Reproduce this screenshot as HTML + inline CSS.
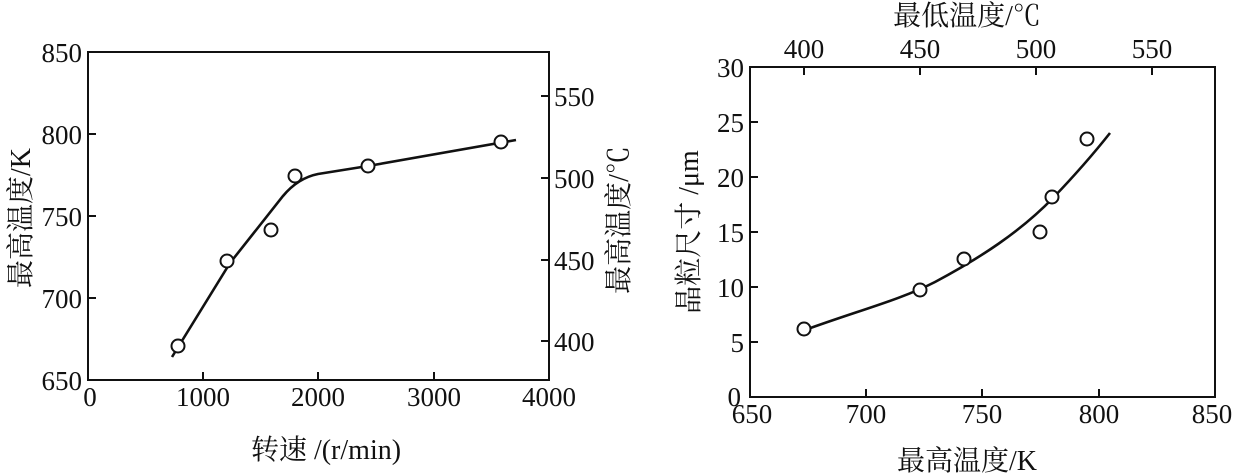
<!DOCTYPE html>
<html><head><meta charset="utf-8"><style>
body{margin:0;background:#fff;}
svg{display:block;}
text{font-family:"Liberation Serif","Noto Serif CJK SC","Noto Sans CJK SC",serif;fill:#111;}
.t{font-size:27px;}
.c{font-size:28px;}
</style></head><body>
<svg width="1236" height="475" viewBox="0 0 1236 475">
<g stroke="#111" stroke-width="2" fill="none">
<rect x="88" y="52" width="461" height="328"/>
<path d="M88 134h8M88 216h8M88 298h8"/>
<path d="M203 380v-8M318 380v-8M434 380v-8"/>
<path d="M549 96h-8M549 178h-8M549 260h-8M549 341h-8"/>
<path d="M172 357 L 230 263 L 283 196 Q 298 178 318 174 L 368 166 L 516 140" stroke-width="2.6"/>
<g fill="#fff">
<circle cx="178" cy="346" r="6.5"/>
<circle cx="227" cy="261" r="6.5"/>
<circle cx="271" cy="230" r="6.5"/>
<circle cx="295" cy="176" r="6.5"/>
<circle cx="368" cy="166" r="6.5"/>
<circle cx="501" cy="142" r="6.5"/>
</g>
<rect x="750" y="67" width="465" height="330"/>
<path d="M750 122h8M750 177h8M750 232h8M750 287h8M750 342h8"/>
<path d="M866 397v-8M982 397v-8M1099 397v-8"/>
<path d="M804 67v8M920 67v8M1036 67v8M1152 67v8"/>
<path d="M805 330 C 860 310, 900 300, 935 282 C 980 258, 1020 232, 1053 198 C 1075 175, 1095 152, 1110 133" stroke-width="2.6"/>
<g fill="#fff">
<circle cx="804" cy="329" r="6.5"/>
<circle cx="920" cy="290" r="6.5"/>
<circle cx="964" cy="259" r="6.5"/>
<circle cx="1040" cy="232" r="6.5"/>
<circle cx="1052" cy="197" r="6.5"/>
<circle cx="1087" cy="139" r="6.5"/>
</g>
</g>
<g class="t" text-anchor="end">
<text x="82" y="62">850</text>
<text x="82" y="144">800</text>
<text x="82" y="226">750</text>
<text x="82" y="308">700</text>
<text x="82" y="390">650</text>
</g>
<g class="t" text-anchor="middle">
<text x="90" y="406">0</text>
<text x="203" y="406">1000</text>
<text x="318" y="406">2000</text>
<text x="434" y="406">3000</text>
<text x="549" y="406">4000</text>
</g>
<g class="t" text-anchor="start">
<text x="554" y="106">550</text>
<text x="554" y="188">500</text>
<text x="554" y="270">450</text>
<text x="554" y="351">400</text>
</g>
<text class="c" x="326" y="459" text-anchor="middle">转速 /(r/min)</text>
<text class="c" transform="translate(30,218) rotate(-90)" text-anchor="middle">最高温度/K</text>
<text class="c" transform="translate(628,220) rotate(-90)" text-anchor="middle">最高温度/℃</text>
<g class="t" text-anchor="end">
<text x="744" y="77">30</text>
<text x="744" y="132">25</text>
<text x="744" y="187">20</text>
<text x="744" y="242">15</text>
<text x="744" y="297">10</text>
<text x="744" y="352">5</text>
<text x="741" y="406">0</text>
</g>
<g class="t" text-anchor="middle">
<text x="752" y="423">650</text>
<text x="866" y="423">700</text>
<text x="982" y="423">750</text>
<text x="1099" y="423">800</text>
<text x="1212" y="423">850</text>
<text x="804" y="58">400</text>
<text x="920" y="58">450</text>
<text x="1036" y="58">500</text>
<text x="1152" y="58">550</text>
</g>
<text class="c" x="967" y="470" text-anchor="middle">最高温度/K</text>
<text class="c" x="967" y="25" text-anchor="middle">最低温度/℃</text>
<text class="c" transform="translate(698,232) rotate(-90)" text-anchor="middle">晶粒尺寸 /μm</text>
</svg>
</body></html>
